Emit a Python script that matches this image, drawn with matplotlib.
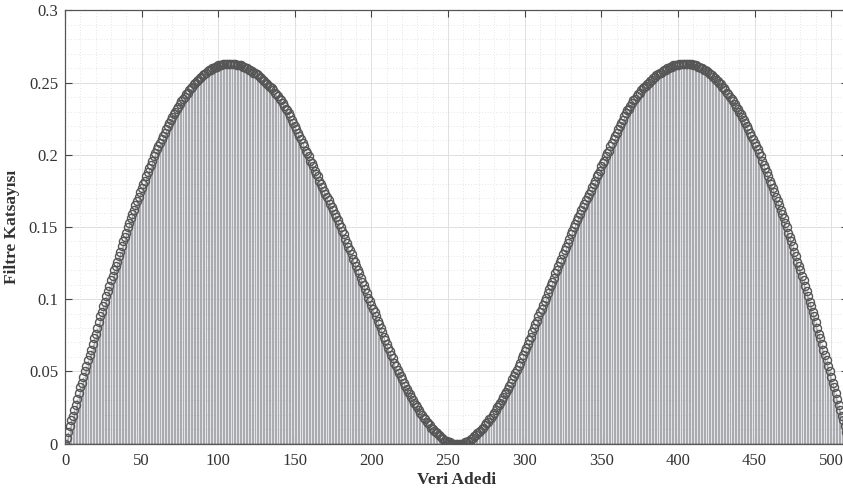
import matplotlib
matplotlib.use("Agg")
import matplotlib.pyplot as plt
from matplotlib.ticker import MultipleLocator
import numpy as np

# filter coefficients, in thousandths
# first hump, n = 0..256
coef_first = [
    0, 4, 8, 12, 16, 19, 23, 27, 31, 35,
    39, 42, 46, 50, 54, 58, 61, 65, 69, 73,
    76, 80, 84, 88, 91, 95, 98, 102, 106, 109,
    113, 116, 120, 123, 126, 130, 133, 137, 140, 143,
    146, 150, 153, 156, 159, 162, 165, 168, 171, 174,
    177, 180, 182, 185, 188, 191, 193, 196, 199, 201,
    204, 206, 208, 211, 213, 215, 218, 220, 222, 224,
    226, 228, 230, 232, 233, 235, 237, 239, 240, 242,
    243, 245, 246, 247, 249, 250, 251, 252, 253, 254,
    255, 256, 257, 258, 259, 259, 260, 260, 261, 261,
    262, 262, 262, 263, 263, 263, 263, 263, 263, 263,
    263, 263, 262, 262, 262, 262, 261, 261, 260, 260,
    259, 259, 258, 257, 257, 256, 255, 254, 253, 252,
    251, 250, 249, 248, 247, 246, 245, 243, 242, 241,
    239, 238, 236, 234, 232, 231, 229, 227, 224, 222,
    220, 218, 215, 213, 211, 208, 206, 203, 201, 199,
    196, 194, 192, 189, 187, 185, 182, 180, 178, 175,
    173, 171, 169, 166, 164, 162, 159, 157, 155, 152,
    150, 147, 145, 142, 139, 136, 134, 131, 128, 126,
    123, 120, 118, 115, 112, 110, 107, 104, 101, 99,
    96, 93, 91, 88, 85, 83, 80, 77, 74, 72,
    69, 66, 64, 61, 59, 56, 54, 51, 49, 47,
    45, 42, 40, 38, 36, 34, 32, 30, 28, 27,
    25, 23, 21, 20, 18, 17, 15, 14, 13, 11,
    10, 9, 8, 7, 6, 5, 4, 3, 2, 2,
    1, 1, 0, 0, 0, 0, 0,
]
# second hump, n = 257..511
coef_second = [
    0, 0, 0, 0, 1, 1, 2, 2, 3, 4, 5, 6, 7, 8, 9, 10,
    11, 13, 14, 15, 17, 18, 20, 21, 23, 25,
    27, 28, 30, 32, 34, 36, 38, 40, 42, 45,
    47, 49, 51, 54, 56, 59, 61, 64, 66, 69,
    72, 74, 77, 80, 83, 85, 88, 91, 93, 96,
    99, 101, 104, 107, 110, 112, 115, 118, 120, 123,
    126, 128, 131, 134, 136, 139, 142, 145, 147, 150,
    152, 155, 157, 159, 162, 164, 166, 169, 171, 173,
    175, 178, 180, 182, 185, 187, 189, 192, 194, 196,
    199, 201, 203, 206, 208, 211, 213, 215, 218, 220,
    222, 224, 227, 229, 231, 232, 234, 236, 238, 239,
    241, 242, 243, 245, 246, 247, 248, 249, 250, 251,
    252, 253, 254, 255, 256, 257, 257, 258, 259, 259,
    260, 260, 261, 261, 262, 262, 262, 262, 263, 263,
    263, 263, 263, 263, 263, 263, 263, 262, 262, 262,
    261, 261, 260, 260, 259, 259, 258, 257, 256, 255,
    254, 253, 252, 251, 250, 249, 247, 246, 245, 243,
    242, 240, 239, 237, 235, 233, 232, 230, 228, 226,
    224, 222, 220, 218, 215, 213, 211, 208, 206, 204,
    201, 199, 196, 193, 191, 188, 185, 182, 180, 177,
    174, 171, 168, 165, 162, 159, 156, 153, 150, 146,
    143, 140, 137, 133, 130, 126, 123, 120, 116, 113,
    109, 106, 102, 98, 95, 91, 88, 84, 80, 76,
    73, 69, 65, 61, 58, 54, 50, 46, 42, 39,
    35, 31, 27, 23, 19, 16, 12, 8, 4,
]

coef = np.array(coef_first + coef_second) / 1000.0
n = np.arange(len(coef))

x_ticks = [0, 50, 100, 150, 200, 250, 300, 350, 400, 450, 500]
y_ticks = [0, 0.05, 0.1, 0.15, 0.2, 0.25, 0.3]
y_tick_labels = ["0", "0.05", "0.1", "0.15", "0.2", "0.25", "0.3"]

plt.rcParams['font.family'] = ['Liberation Serif', 'DejaVu Serif']

fig = plt.figure(figsize=(8.43, 4.94), dpi=100)
# axes runs slightly past the right edge of the picture, like the cropped original
ax = fig.add_axes([65 / 843, 50.5 / 494, (848 - 65) / 843, 433 / 494])

markerline, stemlines, baseline = ax.stem(n, coef)
plt.setp(stemlines, color='#aaabb0', linewidth=0.95)
plt.setp(markerline, marker='o', markersize=5.8, markerfacecolor='none',
         markeredgecolor='#565656', markeredgewidth=1.0)
plt.setp(baseline, color='#444444', linewidth=1.0)

ax.set_xlim(0, 511)
ax.set_ylim(0, 0.3)
ax.set_xticks(x_ticks)
ax.set_yticks(y_ticks)
ax.set_yticklabels(y_tick_labels)
ax.xaxis.set_minor_locator(MultipleLocator(10))
ax.yaxis.set_minor_locator(MultipleLocator(0.01))

ax.set_axisbelow(True)
ax.grid(True, which='major', color='#e0e0e0', linewidth=0.7, linestyle='-')
ax.grid(True, which='minor', color='#cfcfcf', linewidth=0.5, linestyle=(0, (1, 3)))

ax.tick_params(which='major', direction='in', length=5, width=0.8,
               colors='#444444', labelcolor='#333333', labelsize=12,
               top=True, right=True)
ax.tick_params(axis='x', which='major', pad=7)
ax.tick_params(axis='y', which='major', pad=5)
ax.tick_params(which='minor', length=0)

for side in ['left', 'bottom', 'top', 'right']:
    ax.spines[side].set_color('#555555')
    ax.spines[side].set_linewidth(0.9)

ax.set_xlabel("Veri Adedi", fontsize=12.5, fontweight='bold', color='#333333', labelpad=2)
ax.set_ylabel("Filtre Katsayısı", fontsize=12.5, fontweight='bold', color='#333333', labelpad=6)

fig.savefig("out.png", dpi=100)
